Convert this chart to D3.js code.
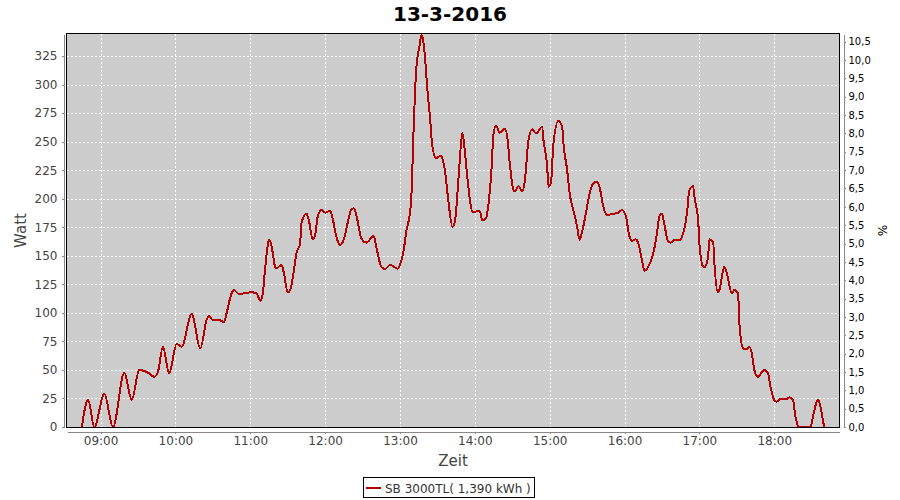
<!DOCTYPE html>
<html>
<head>
<meta charset="utf-8">
<script src="https://cdn.jsdelivr.net/npm/d3@7"></script>
<style>
  html, body { margin: 0; padding: 0; background: #fff; }
  svg { display: block; font-family: "DejaVu Sans", sans-serif; }
</style>
</head>
<body>
<svg id="chart" width="900" height="500"></svg>
<script>
const title = "13-3-2016";
const seriesName = "SB 3000TL( 1,390 kWh )";
const times = ["08:45","08:50","08:55","09:03","09:10","09:19","09:25","09:31","09:38","09:43","09:46","09:50","09:55","10:01","10:05","10:13","10:20","10:25","10:27","10:30","10:35","10:39","10:41","10:45","10:47","10:51","11:01","11:05","11:08","11:10","11:12","11:14","11:15","11:17","11:20","11:21","11:25","11:27","11:30","11:32","11:35","11:37","11:40","11:41","11:45","11:47","11:50","11:52","11:54","11:57","12:00","12:04","12:06","12:09","12:12","12:15","12:18","12:21","12:23","12:25","12:29","12:33","12:39","12:41","12:45","12:48","12:52","12:54","12:58","13:00","13:03","13:05","13:07","13:09","13:11","13:13","13:16","13:17","13:18","13:20","13:22","13:24","13:26","13:29","13:33","13:34","13:36","13:39","13:42","13:44","13:47","13:50","13:51","13:54","13:56","13:58","14:04","14:06","14:09","14:11","14:13","14:15","14:17","14:20","14:24","14:26","14:28","14:31","14:32","14:35","14:38","14:40","14:43","14:46","14:49","14:54","14:55","14:58","14:59","15:01","15:03","15:07","15:10","15:11","15:14","15:16","15:19","15:22","15:24","15:26","15:29","15:32","15:35","15:38","15:40","15:43","15:46","15:49","15:55","15:58","16:01","16:04","16:06","16:09","16:11","16:14","16:16","16:19","16:23","16:26","16:28","16:30","16:32","16:35","16:37","16:40","16:44","16:47","16:50","16:52","16:55","16:56","16:59","17:00","17:03","17:04","17:07","17:08","17:11","17:12","17:15","17:16","17:20","17:22","17:26","17:28","17:31","17:32","17:35","17:38","17:40","17:42","17:44","17:47","17:49","17:52","17:55","17:57","18:00","18:02","18:05","18:10","18:12","18:15","18:17","18:20","18:29","18:31","18:34","18:35","18:37","18:39","18:40"];
const watts = [0,24,0,29,0,47.6,23.6,50,47.6,44,48.4,70.3,47,72.7,70.3,99,69,93.7,97,93.7,93.7,92,99.6,117,120,116.5,118,117,110.6,117,140,159,164.4,159,140,139,142,134.6,117.7,120,137.5,152,161,178.5,187,181,164.4,168,184,190,187.8,189.5,182.8,166.7,159.4,164.4,178.5,190.7,191.6,185.7,165.3,161.5,167.3,158,140.4,138.4,142,141.3,138.7,142,155,171,181,199,263,312.8,336,343.4,342,324.4,295,271.8,245.5,235.4,238,235.4,225,196,175.5,180,219,257.8,251.4,219,199,188.6,189,181,182.8,196,219,257,263.7,257.8,261.3,254.3,231,207.6,206.7,211,206.7,215,251.4,260.8,257.3,263,251.4,228,210.5,213.5,248.5,268.3,263,248.5,225,204.6,190,175.5,163.8,171,187,204.6,213.5,215,210,193,185.7,186.3,187.8,190,184.8,166.7,163,164.4,161,146.3,137,140.4,152,169.7,184.8,187,177,162.3,161.5,163.8,163.8,169.7,187,207.6,211,201.8,181.3,161,140.4,139.9,149.2,164.4,162.3,143.4,117.7,120,140.4,134.6,117,120,117,92,69,68,70.3,64.6,50,44,46.4,50,47,35.3,23.6,22.2,24.5,24.5,26,23.6,9,0,0,9,22.2,24.2,17.8,6,0];
const leftTicks = [0,25,50,75,100,125,150,175,200,225,250,275,300,325];
const rightTicks = [0,0.5,1,1.5,2,2.5,3,3.5,4,4.5,5,5.5,6,6.5,7,7.5,8,8.5,9,9.5,10,10.5];
const hourTicks = ["09:00","10:00","11:00","12:00","13:00","14:00","15:00","16:00","17:00","18:00"];

const parse = d3.timeParse("%H:%M");
const data = times.map((t, i) => ({t: parse(t), v: watts[i]}));

const plot = {left: 67, right: 839, top: 34, bottom: 427};
const svg = d3.select("#chart");

const t0 = data[0].t, t1 = data[data.length - 1].t;
const span = t1 - t0;
const x = d3.scaleTime()
  .domain([new Date(+t0 - 0.02 * span), new Date(+t1 + 0.02 * span)])
  .range([plot.left, plot.right]);
const y = d3.scaleLinear().domain([0, 344.3]).range([plot.bottom, plot.top]);
const yR = d3.scaleLinear().domain([0, 10.71]).range([plot.bottom, plot.top]);

// title
svg.append("text").attr("x", 450).attr("y", 21).attr("text-anchor", "middle")
  .attr("font-size", 20).attr("font-weight", "bold").attr("fill", "#000").text(title);

// plot background
svg.append("rect").attr("x", plot.left).attr("y", plot.top)
  .attr("width", plot.right - plot.left).attr("height", plot.bottom - plot.top)
  .attr("fill", "#cccccc");

// gridlines
const grid = svg.append("g").attr("stroke", "#fff").attr("stroke-width", 1)
  .attr("stroke-dasharray", "2,2").attr("shape-rendering", "crispEdges");
hourTicks.map(parse).forEach(d => {
  grid.append("line").attr("x1", Math.round(x(d)) + 0.5).attr("x2", Math.round(x(d)) + 0.5)
    .attr("y1", plot.top).attr("y2", plot.bottom);
});
leftTicks.forEach(v => {
  grid.append("line").attr("x1", plot.left).attr("x2", plot.right)
    .attr("y1", Math.round(y(v)) + 0.5).attr("y2", Math.round(y(v)) + 0.5);
});

// line
const line = d3.line().x(d => x(d.t)).y(d => y(d.v)).curve(d3.curveMonotoneX);
svg.append("path").datum(data).attr("d", line).attr("fill", "none")
  .attr("stroke", "#b40000").attr("stroke-width", 2).attr("stroke-linejoin", "round")
  .attr("shape-rendering", "crispEdges");

// plot outline
svg.append("rect").attr("x", plot.left - 0.5).attr("y", plot.top - 0.5)
  .attr("width", plot.right - plot.left + 1).attr("height", plot.bottom - plot.top + 1)
  .attr("fill", "none").attr("stroke", "#000").attr("stroke-width", 1)
  .attr("shape-rendering", "crispEdges");

function styleAxis(g, color) {
  g.select(".domain").attr("stroke", "#888").attr("shape-rendering", "crispEdges");
  g.selectAll(".tick line").attr("stroke", "#888").attr("shape-rendering", "crispEdges");
  g.selectAll(".tick text").attr("fill", color).attr("font-family", "DejaVu Sans, sans-serif");
}

// left axis
const gL = svg.append("g").attr("transform", `translate(${plot.left - 3.5},0)`)
  .call(d3.axisLeft(y).tickValues(leftTicks).tickSize(2).tickSizeOuter(0).tickPadding(4));
gL.attr("font-size", 12);
styleAxis(gL, "#444");

// right axis
const fmtR = v => d3.format(".1f")(v).replace(".", ",");
const gR = svg.append("g").attr("transform", `translate(${plot.right + 4.5},0)`)
  .call(d3.axisRight(yR).tickValues(rightTicks).tickSize(2).tickSizeOuter(0).tickPadding(3).tickFormat(fmtR));
gR.attr("font-size", 10);
styleAxis(gR, "#000");

// bottom axis
const gB = svg.append("g").attr("transform", `translate(0,${plot.bottom + 4.5})`)
  .call(d3.axisBottom(x).tickValues(hourTicks.map(parse)).tickSize(2).tickSizeOuter(0)
    .tickPadding(3).tickFormat(d3.timeFormat("%H:%M")));
gB.attr("font-size", 12);
styleAxis(gB, "#444");

// axis labels
svg.append("text").attr("transform", `translate(26,${(plot.top + plot.bottom) / 2}) rotate(-90)`)
  .attr("text-anchor", "middle").attr("font-size", 15).attr("fill", "#444").text("Watt");
svg.append("text").attr("x", (plot.left + plot.right) / 2).attr("y", 466)
  .attr("text-anchor", "middle").attr("font-size", 15).attr("fill", "#444").text("Zeit");
svg.append("text").attr("transform", `translate(878,${(plot.top + plot.bottom) / 2}) rotate(90)`)
  .attr("text-anchor", "middle").attr("font-size", 12).attr("fill", "#000").text("%");

// legend
const lg = svg.append("g");
lg.append("rect").attr("x", 363.5).attr("y", 477.5).attr("width", 171).attr("height", 20)
  .attr("fill", "#fff").attr("stroke", "#000").attr("shape-rendering", "crispEdges");
lg.append("line").attr("x1", 366).attr("x2", 381).attr("y1", 488).attr("y2", 488)
  .attr("stroke", "#b40000").attr("stroke-width", 2);
lg.append("text").attr("x", 385).attr("y", 492.5).attr("font-size", 12).attr("fill", "#333")
  .text(seriesName);
</script>
</body>
</html>
